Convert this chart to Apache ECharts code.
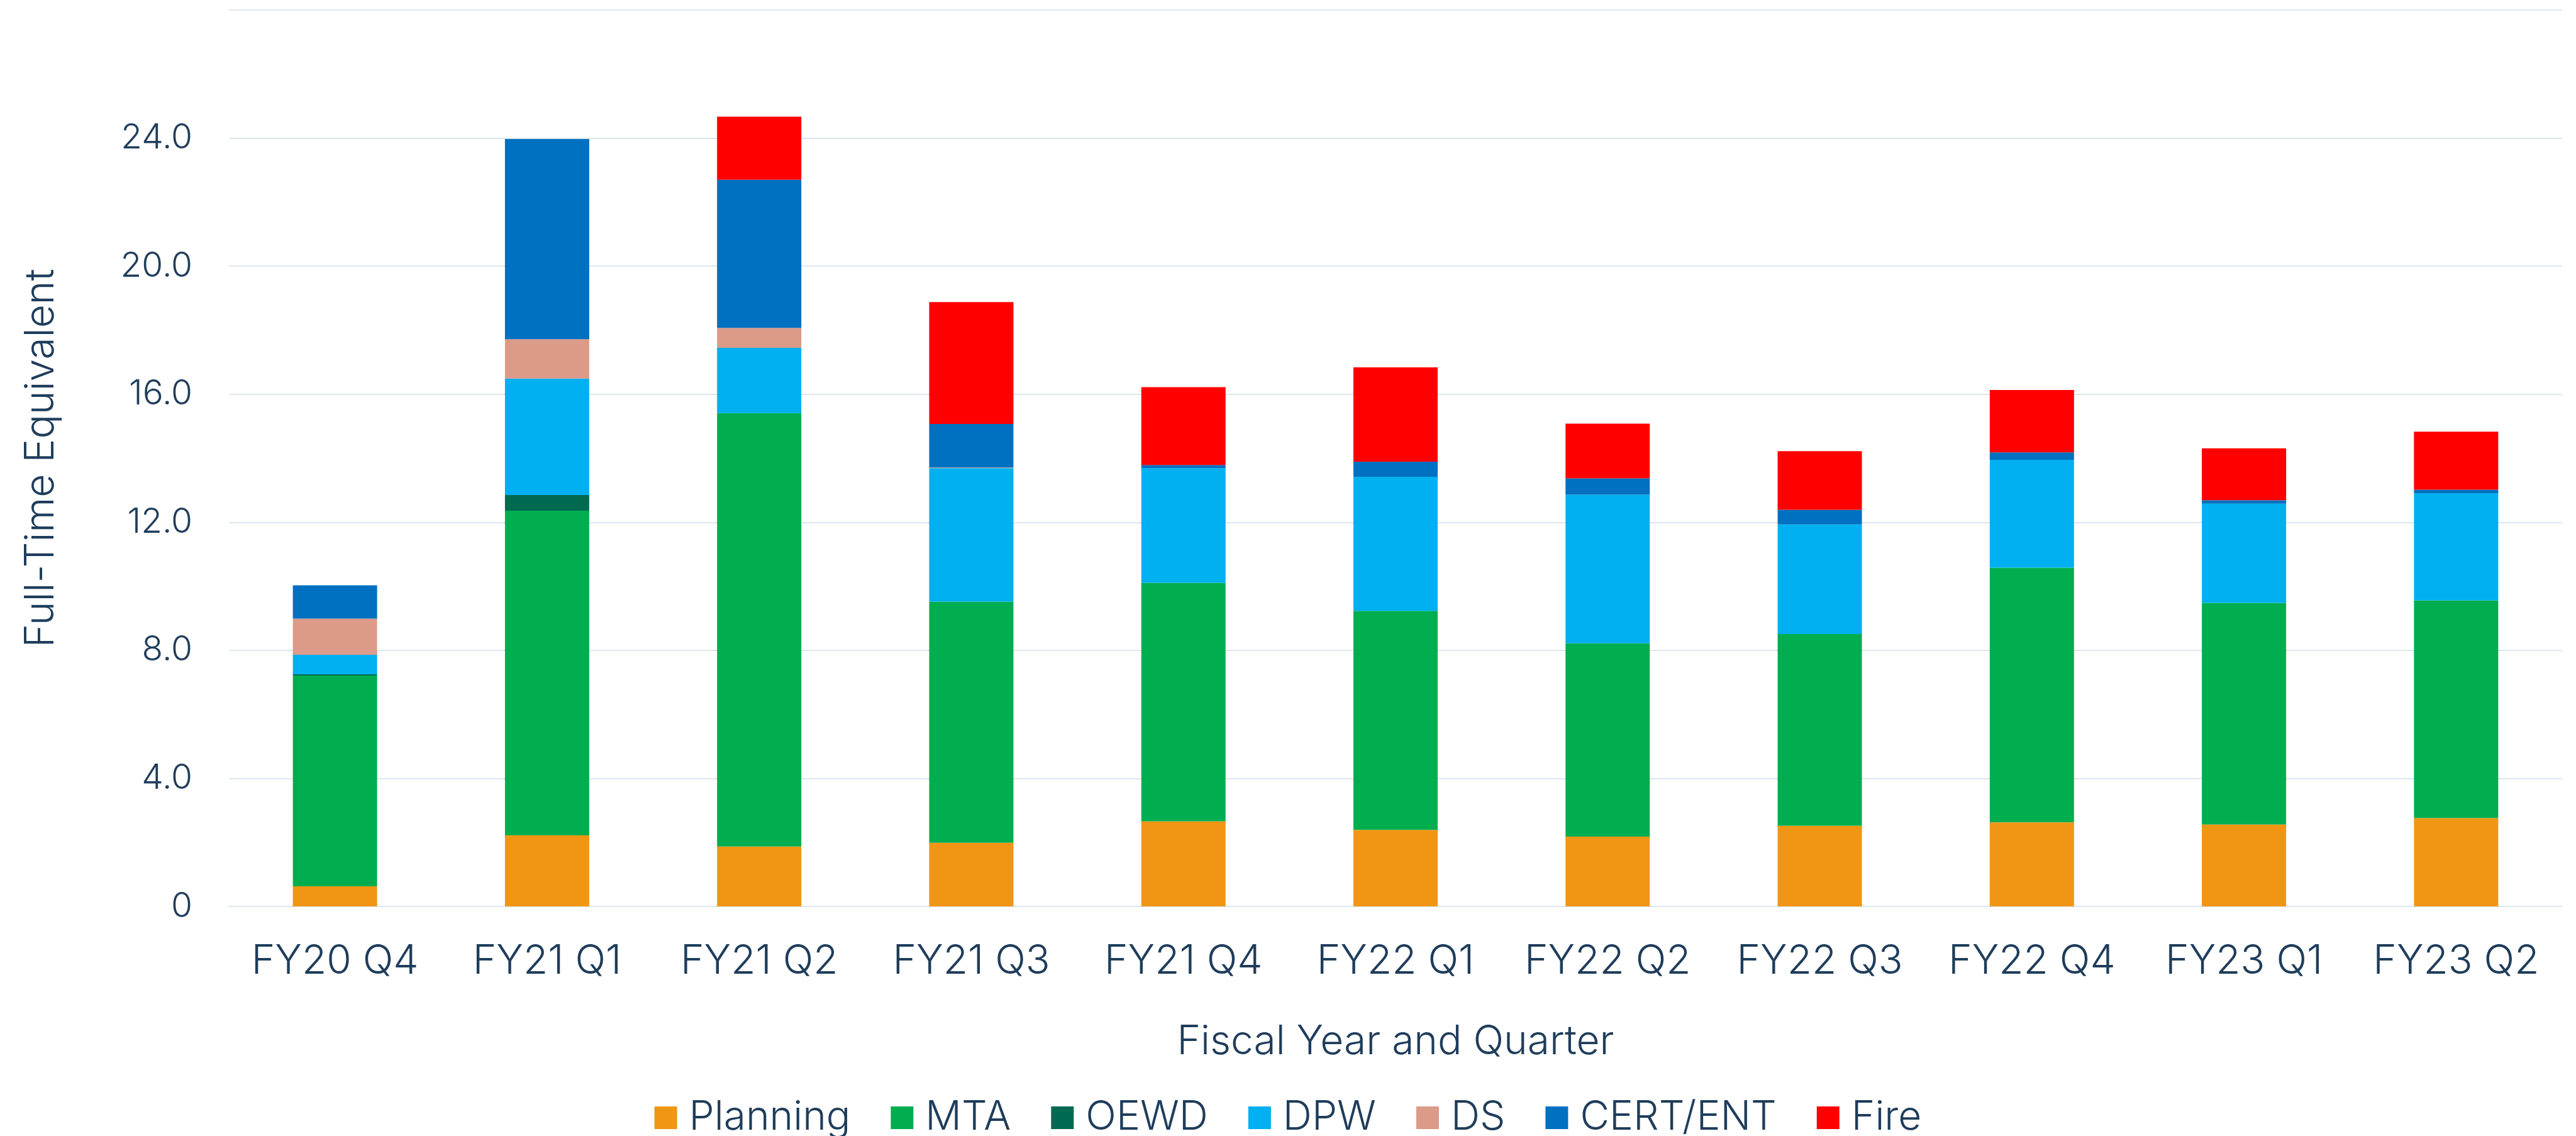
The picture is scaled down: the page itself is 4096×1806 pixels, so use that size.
<!DOCTYPE html>
<html>
<head>
<meta charset="utf-8">
<script src="https://cdn.jsdelivr.net/npm/echarts@6/dist/echarts.min.js"></script>
<style>
  html, body { margin: 0; padding: 0; background: #fff; }
  #chart { width: 4096px; height: 1806px; }
</style>
</head>
<body>
<div id="chart"></div>
<script>
// quarters on the x axis
const quarters = ['FY20 Q4', 'FY21 Q1', 'FY21 Q2', 'FY21 Q3', 'FY21 Q4', 'FY22 Q1',
  'FY22 Q2', 'FY22 Q3', 'FY22 Q4', 'FY23 Q1', 'FY23 Q2'];

// FTE per department
const planning = [0.63, 2.22, 1.87, 1.99, 2.66, 2.39, 2.18, 2.52, 2.63, 2.56, 2.76];
const mta      = [6.58, 10.14, 13.54, 7.53, 7.45, 6.84, 6.04, 5.99, 7.95, 6.92, 6.80];
const oewd     = [0.04, 0.49, 0, 0, 0, 0, 0, 0, 0, 0, 0];
const dpw      = [0.61, 3.64, 2.04, 4.17, 3.58, 4.19, 4.64, 3.42, 3.37, 3.10, 3.35];
const ds       = [1.13, 1.23, 0.62, 0.02, 0, 0, 0, 0, 0, 0, 0];
const certEnt  = [1.04, 6.25, 4.63, 1.36, 0.10, 0.47, 0.51, 0.46, 0.23, 0.11, 0.11];
const fire     = [0, 0, 1.97, 3.81, 2.43, 2.95, 1.71, 1.83, 1.95, 1.62, 1.81];

// y axis ticks
const yMin = 0, yMax = 28, yStep = 4;

const TEXT = '#1f3d5b';
const GRID = '#dce6ef';
const FONT = 'Inter';

const depts = [
  { name: 'Planning', data: planning, color: '#f09614' },
  { name: 'MTA', data: mta, color: '#00ae50' },
  { name: 'OEWD', data: oewd, color: '#006a51' },
  { name: 'DPW', data: dpw, color: '#00b0f0' },
  { name: 'DS', data: ds, color: '#dc9a89' },
  { name: 'CERT/ENT', data: certEnt, color: '#0070c0' },
  { name: 'Fire', data: fire, color: '#ff0000' },
];

const chart = echarts.init(document.getElementById('chart'), null, { renderer: 'canvas' });

chart.setOption({
  backgroundColor: '#ffffff',
  animation: false,
  grid: { left: 364, right: 22, top: 16, bottom: 365, containLabel: false },
  legend: {
    left: 'center',
    top: 1740,
    itemWidth: 36,
    itemHeight: 36,
    itemGap: 64,
    icon: 'rect',
    data: depts.map((d) => d.name),
    textStyle: { color: TEXT, fontSize: 64, fontFamily: FONT, fontWeight: 300, padding: [0, 0, 0, 14] },
  },
  xAxis: {
    type: 'category',
    data: quarters,
    name: 'Fiscal Year and Quarter',
    nameLocation: 'middle',
    nameGap: 184,
    nameTextStyle: { color: TEXT, fontSize: 64, fontFamily: FONT, fontWeight: 300 },
    axisLine: { lineStyle: { color: GRID, width: 2 } },
    axisTick: { show: false },
    axisLabel: { interval: 0, color: TEXT, fontSize: 64, fontFamily: FONT, fontWeight: 300, margin: 56 },
  },
  yAxis: {
    type: 'value',
    min: yMin,
    max: yMax,
    interval: yStep,
    name: 'Full-Time Equivalent',
    nameLocation: 'middle',
    nameGap: 266,
    nameTextStyle: { color: TEXT, fontSize: 64, fontFamily: FONT, fontWeight: 300 },
    axisLine: { show: false },
    axisTick: { show: false },
    splitLine: { lineStyle: { color: GRID, width: 2 } },
    axisLabel: {
      color: TEXT,
      fontSize: 55,
      fontFamily: FONT,
      fontWeight: 300,
      margin: 58,
      formatter: (v) => (v === 0 ? '0' : v === yMax ? '' : v.toFixed(1)),
    },
  },
  series: depts.map((d) => ({
    name: d.name,
    type: 'bar',
    stack: 'fte',
    barWidth: 134,
    data: d.data,
    itemStyle: { color: d.color },
  })),
});
</script>
</body>
</html>
